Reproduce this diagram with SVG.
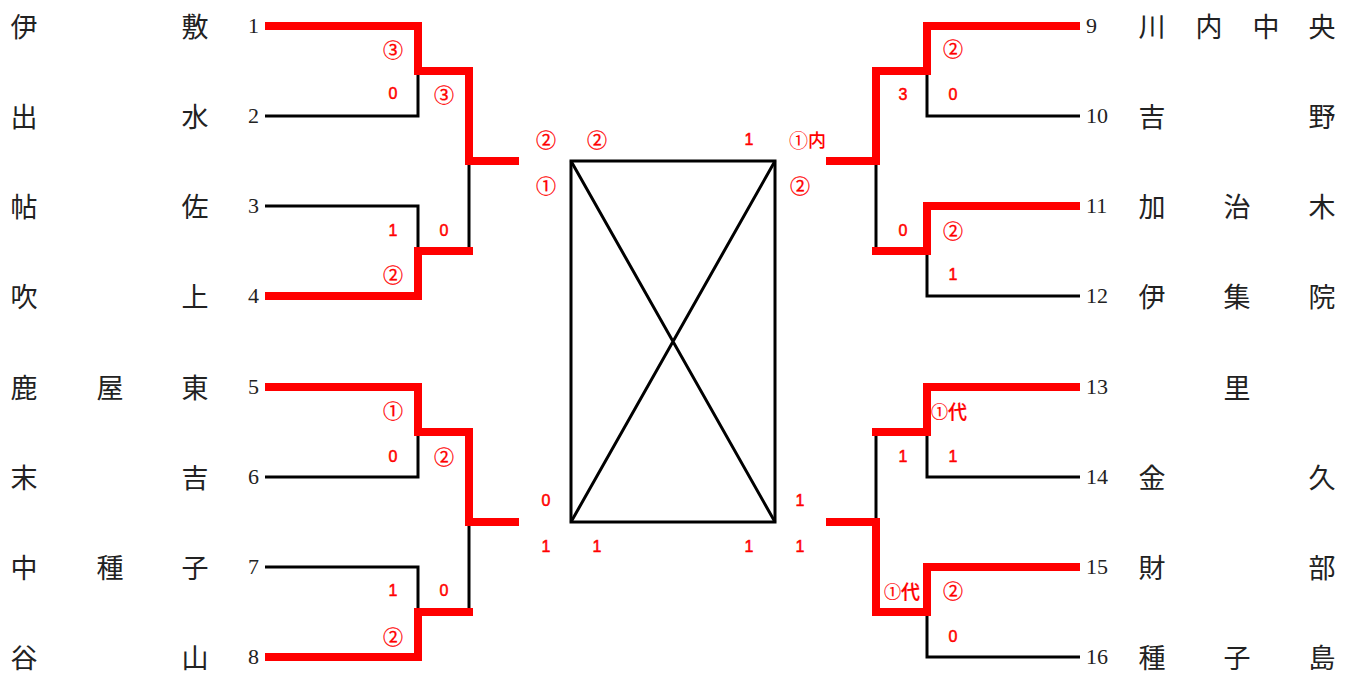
<svg xmlns="http://www.w3.org/2000/svg" width="1357" height="674" viewBox="0 0 1357 674">
<style>
.bk{fill:none;stroke:#000;stroke-width:3}
.rd{fill:none;stroke:#ff0000;stroke-width:8;stroke-linejoin:miter}
.num{font-family:"Liberation Serif",serif;font-size:22px;fill:#222}
.nm{font-family:"Noto Sans CJK JP",sans-serif;font-size:27px;font-weight:400;fill:#222;text-anchor:middle;dominant-baseline:central}
.sc{font-family:"Liberation Sans","Noto Sans CJK JP",sans-serif;font-size:16px;fill:#ff0000;stroke:#ff0000;stroke-width:0.5;text-anchor:middle;dominant-baseline:central}
.ci{font-family:"Noto Sans CJK JP",sans-serif;font-size:20px;fill:#ff0000;stroke:#ff0000;stroke-width:0.3;text-anchor:middle;dominant-baseline:central}
.cs{font-family:"Noto Sans CJK JP",sans-serif;font-size:17px;fill:#ff0000;stroke:#ff0000;stroke-width:0.2;dominant-baseline:central}
.ck{font-family:"Noto Sans CJK JP",sans-serif;font-size:18px;font-weight:500;fill:#ff0000;dominant-baseline:central}
</style>
<rect width="1357" height="674" fill="#fff"/>
<g id="connectors">
<path class="bk" d="M265,116 H418 V71"/>
<path class="bk" d="M265,206 H418 V251"/>
<path class="bk" d="M469,161 V251"/>
<path class="bk" d="M265,477 H418 V432"/>
<path class="bk" d="M265,567 H418 V612"/>
<path class="bk" d="M469,522 V612"/>
<path class="bk" d="M1080,116 H927 V71"/>
<path class="bk" d="M1080,296 H927 V251"/>
<path class="bk" d="M876,161 V251"/>
<path class="bk" d="M1080,477 H927 V432"/>
<path class="bk" d="M1080,657 H927 V612"/>
<path class="bk" d="M876,432 V522"/>
<path class="rd" d="M265,26 H418 V71 H469 V161 H519"/>
<path class="rd" d="M265,296 H418 V251 H473"/>
<path class="rd" d="M265,387 H418 V432 H469 V522 H519"/>
<path class="rd" d="M265,657 H418 V612 H473"/>
<path class="rd" d="M1080,26 H927 V71 H876 V161 H826"/>
<path class="rd" d="M1080,206 H927 V251 H872"/>
<path class="rd" d="M1080,387 H927 V432 H872"/>
<path class="rd" d="M1080,567 H927 V612 H876 V522 H826"/>
</g>
<g id="final">
<rect x="571" y="161" width="204" height="361" fill="none" stroke="#000" stroke-width="3"/>
<path d="M571,161 L775,522 M775,161 L571,522" stroke="#000" stroke-width="3" fill="none"/>
</g>
<g id="numbers">
<text class="num" x="248" y="33">1</text>
<text class="num" x="248" y="123">2</text>
<text class="num" x="248" y="213">3</text>
<text class="num" x="248" y="303">4</text>
<text class="num" x="248" y="394">5</text>
<text class="num" x="248" y="484">6</text>
<text class="num" x="248" y="574">7</text>
<text class="num" x="248" y="664">8</text>
<text class="num" x="1086" y="33">9</text>
<text class="num" x="1086" y="123">10</text>
<text class="num" x="1086" y="213">11</text>
<text class="num" x="1086" y="303">12</text>
<text class="num" x="1086" y="394">13</text>
<text class="num" x="1086" y="484">14</text>
<text class="num" x="1086" y="574">15</text>
<text class="num" x="1086" y="664">16</text>
</g>
<g id="team1"><text class="nm" x="24" y="25">伊</text><text class="nm" x="195" y="25">敷</text></g>
<g id="team2"><text class="nm" x="24" y="115">出</text><text class="nm" x="195" y="115">水</text></g>
<g id="team3"><text class="nm" x="24" y="205">帖</text><text class="nm" x="195" y="205">佐</text></g>
<g id="team4"><text class="nm" x="24" y="295">吹</text><text class="nm" x="195" y="295">上</text></g>
<g id="team5"><text class="nm" x="24" y="386">鹿</text><text class="nm" x="110" y="386">屋</text><text class="nm" x="195" y="386">東</text></g>
<g id="team6"><text class="nm" x="24" y="476">末</text><text class="nm" x="195" y="476">吉</text></g>
<g id="team7"><text class="nm" x="24" y="566">中</text><text class="nm" x="110" y="566">種</text><text class="nm" x="195" y="566">子</text></g>
<g id="team8"><text class="nm" x="24" y="656">谷</text><text class="nm" x="195" y="656">山</text></g>
<g id="team9"><text class="nm" x="1152" y="25">川</text><text class="nm" x="1209" y="25">内</text><text class="nm" x="1266" y="25">中</text><text class="nm" x="1322" y="25">央</text></g>
<g id="team10"><text class="nm" x="1152" y="115">吉</text><text class="nm" x="1322" y="115">野</text></g>
<g id="team11"><text class="nm" x="1152" y="205">加</text><text class="nm" x="1237" y="205">治</text><text class="nm" x="1322" y="205">木</text></g>
<g id="team12"><text class="nm" x="1152" y="295">伊</text><text class="nm" x="1237" y="295">集</text><text class="nm" x="1322" y="295">院</text></g>
<g id="team13"><text class="nm" x="1237" y="386">里</text></g>
<g id="team14"><text class="nm" x="1152" y="476">金</text><text class="nm" x="1322" y="476">久</text></g>
<g id="team15"><text class="nm" x="1152" y="566">財</text><text class="nm" x="1322" y="566">部</text></g>
<g id="team16"><text class="nm" x="1152" y="656">種</text><text class="nm" x="1237" y="656">子</text><text class="nm" x="1322" y="656">島</text></g>
<g id="scores">
<text class="ci" x="393" y="49">③</text>
<text class="sc" x="393" y="93">0</text>
<text class="ci" x="444" y="94">③</text>
<text class="sc" x="393" y="230">1</text>
<text class="sc" x="444" y="230">0</text>
<text class="ci" x="393" y="274">②</text>
<text class="ci" x="393" y="410">①</text>
<text class="sc" x="393" y="456">0</text>
<text class="ci" x="444" y="456">②</text>
<text class="sc" x="393" y="590">1</text>
<text class="sc" x="444" y="590">0</text>
<text class="ci" x="393" y="636">②</text>
<text class="ci" x="546" y="139">②</text>
<text class="ci" x="546" y="185">①</text>
<text class="ci" x="597" y="139">②</text>
<text class="sc" x="749" y="139">1</text>
<text class="ck" x="789" y="139"><tspan font-size="19px" font-weight="400">①</tspan>内</text>
<text class="ci" x="800" y="185">②</text>
<text class="sc" x="546" y="500">0</text>
<text class="sc" x="546" y="546">1</text>
<text class="sc" x="597" y="546">1</text>
<text class="sc" x="749" y="546">1</text>
<text class="sc" x="800" y="500">1</text>
<text class="sc" x="800" y="546">1</text>
<text class="ci" x="953" y="48">②</text>
<text class="sc" x="903" y="94">3</text>
<text class="sc" x="953" y="94">0</text>
<text class="sc" x="903" y="230">0</text>
<text class="ci" x="953" y="230">②</text>
<text class="sc" x="953" y="274">1</text>
<text class="cs" x="931" y="410">①<tspan font-size="19px" font-weight="500">代</tspan></text>
<text class="sc" x="903" y="456">1</text>
<text class="sc" x="953" y="456">1</text>
<text class="cs" x="884" y="590">①<tspan font-size="19px" font-weight="500">代</tspan></text>
<text class="ci" x="953" y="590">②</text>
<text class="sc" x="953" y="636">0</text>
</g>
</svg>
